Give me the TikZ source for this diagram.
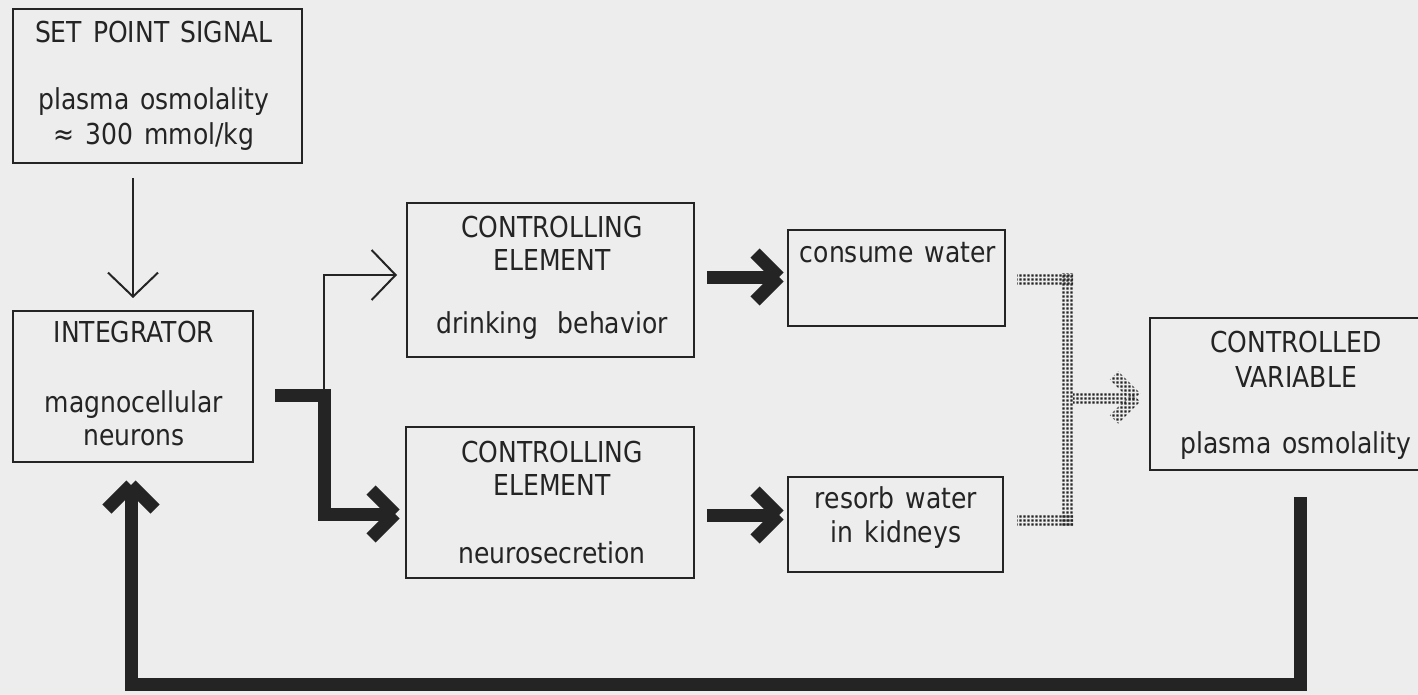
\documentclass[tikz,border=0pt]{standalone}
\usepackage{fontspec}
\setmainfont{DejaVu Sans}[FakeStretch=0.87]
\usetikzlibrary{arrows.meta,patterns,calc}
\definecolor{bg}{RGB}{237,237,237}
\definecolor{ink}{RGB}{36,36,36}
\pgfdeclarepatternformonly{halftone}{\pgfqpoint{0pt}{0pt}}{\pgfqpoint{3.6pt}{3.6pt}}{\pgfqpoint{3.6pt}{3.6pt}}{\pgfpathrectangle{\pgfqpoint{0.3pt}{0.3pt}}{\pgfqpoint{2.5pt}{2.5pt}}\pgfusepath{fill}}
\newcommand\diafont{\fontsize{28.8}{34}\selectfont\spaceskip=11pt\relax}
\begin{document}
\begin{tikzpicture}[x=1pt,y=1pt,
  box/.style={draw=ink, line width=2.4pt, rectangle, inner sep=0pt, outer sep=0pt},
  lbl/.style={font=\diafont, text=ink, anchor=base, inner sep=0pt},
  thinarrow/.style={draw=ink, line width=2pt, -{Straight Barb[length=24pt,width=50pt]}},
  heavy/.style={draw=ink, line width=13pt, line cap=butt, line join=miter},
  dots/.style={pattern=halftone, pattern color=ink},
  thead/.pic={\draw[heavy] (-24,24) -- (0,0) (-24,-24) -- (0,0);},
  dhead/.pic={\fill[dots] (-17.76,26.24) -- (4.24,4.24) -- (-4.24,-4.24) -- (-26.24,17.76) -- cycle;
              \fill[dots] (-17.76,-26.24) -- (4.24,-4.24) -- (-4.24,4.24) -- (-26.24,-17.76) -- cycle;}
]
\useasboundingbox (0,0) rectangle (1418,-695);
\clip (0,0) rectangle (1418,-695);
\fill[bg] (0,0) rectangle (1418,-695);

% boxes
\node[box, minimum width=289pt, minimum height=154pt] (sp) at (157.5,-86) {};
\node[box, minimum width=240pt, minimum height=151pt] (int) at (133,-386.5) {};
\node[box, minimum width=287pt, minimum height=154pt] (ce1) at (550.5,-280) {};
\node[box, minimum width=288pt, minimum height=151pt] (ce2) at (550,-502.5) {};
\node[box, minimum width=217pt, minimum height=96pt] (cw) at (896.5,-278) {};
\node[box, minimum width=215pt, minimum height=95pt] (rw) at (895.5,-524.5) {};
\node[box, minimum width=292pt, minimum height=152pt] (cv) at (1296,-394) {};

% texts
\node[lbl] (sp-a) at (154,-43) {SET POINT SIGNAL};
\node[lbl] (sp-b) at (154,-110) {plasma osmolality};
\node[lbl] (sp-c) at (154,-145) {≈ 300 mmol/kg};
\node[lbl] (int-a) at (134,-342) {INTEGRATOR};
\node[lbl] (int-b) at (134,-412) {magnocellular};
\node[lbl] (int-c) at (134,-445) {neurons};
\node[lbl] (ce1-a) at (552,-237) {CONTROLLING};
\node[lbl] (ce1-b) at (552,-270) {ELEMENT};
\node[lbl] (ce1-c) at (552,-333) {drinking\hspace{19pt}behavior};
\node[lbl] (ce2-a) at (552,-462) {CONTROLLING};
\node[lbl] (ce2-b) at (552,-495) {ELEMENT};
\node[lbl] (ce2-c) at (552,-563) {neurosecretion};
\node[lbl] (cw-a) at (898,-262) {consume water};
\node[lbl] (rw-a) at (896,-508) {resorb water};
\node[lbl] (rw-b) at (896,-542) {in kidneys};
\node[lbl] (cv-a) at (1296,-352) {CONTROLLED};
\node[lbl] (cv-b) at (1296,-387) {VARIABLE};
\node[lbl] (cv-c) at (1296,-453) {plasma osmolality};

% set point -> integrator
\coordinate (a0) at ($(int.north |- sp.south)+(0,-15)$);
\draw[thinarrow] (a0) -- ($(int.north)+(0,13)$);

% integrator -> controlling elements
\coordinate (s1) at ($(int.east)+(22,-8.5)$);
\coordinate (j1) at ($(s1)+(49,0)$);
\coordinate (t1) at ($(ce2.west)+(-11,-11.5)$);
\draw[thinarrow] (j1) |- ($(ce1.west)+(-10,5)$);
\draw[heavy] (s1) -- (j1) |- (t1);
\pic at (t1) {thead};

% controlling elements -> effectors
\coordinate (t2a) at ($(ce1.east)+(13,3)$);
\coordinate (t2) at ($(cw.west)+(-9,1)$);
\draw[heavy] (t2a) -- (t2);
\pic at (t2) {thead};
\coordinate (t3a) at ($(ce2.east)+(13,-12.5)$);
\coordinate (t3) at ($(rw.west)+(-9,9.5)$);
\draw[heavy] (t3a) -- (t3);
\pic at (t3) {thead};

% dotted merge -> controlled variable
\coordinate (d1) at ($(cw.east)+(12,-1)$);
\coordinate (d2) at ($(rw.east)+(14,4.5)$);
\coordinate (dt) at ($(cv.west)+(-14,-3.5)$);
\fill[dots] ($(d1)+(0,6)$) rectangle (1073,-285);
\fill[dots] (1061,-273) rectangle (1073,-526);
\fill[dots] ($(d2)+(0,6)$) rectangle (1073,-526);
\fill[dots] (1073,-392) rectangle ($(dt)+(-10,-5.5)$);
\pic at (dt) {dhead};

% feedback
\coordinate (f0) at ($(cv.south)+(4,-27)$);
\coordinate (fb) at ($(f0)+(0,-187)$);
\coordinate (ft) at ($(int.south)+(-2,-23)$);
\draw[heavy] (f0) -- (fb) -| (ft);
\pic[rotate=90] at (ft) {thead};
\end{tikzpicture}
\end{document}
